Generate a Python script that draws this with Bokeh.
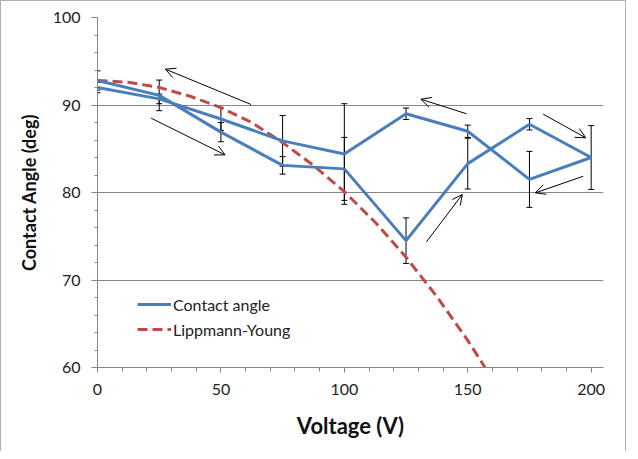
from bokeh.plotting import figure
from bokeh.models import (ColumnDataSource, Whisker, TeeHead, Arrow, OpenHead,
                          FixedTicker, Range1d, Legend, LegendItem)
from bokeh.embed import file_html
from bokeh.resources import INLINE

# Contact angle hysteresis loop (forward then backward)
voltage = [0, 25, 50, 75, 100, 125, 150, 175, 200, 175, 150, 125, 100, 75, 50, 25, 0]
angle = [92.8, 91.1, 86.9, 83.1, 82.7, 74.5, 83.3, 87.8, 84.0, 81.5, 87.0, 89.0, 84.4, 85.9, 88.4, 90.7, 92.0]
angle_err = [1.1, 1.75, 1.1, 1.0, 3.6, 2.6, 2.9, 0.65, 3.65, 3.2, 0.7, 0.65, 5.75, 2.9, 1.3, 0.55, 0.6]

# Lippmann-Young curve values
ly_voltage = [0, 12.5, 25, 37.5, 50, 62.5, 75, 87.5, 100, 112.5, 125, 137.5, 150, 157]
ly_angle = [92.8, 92.6, 92.0, 91.0, 89.7, 88.0, 85.7, 83.1, 80.1, 76.6, 72.6, 68.1, 63.1, 60.0]

# Direction arrows (tail x, tail y, head x, head y)
arrow_x0 = [62.2, 21.7, 149.5, 180.6, 196.8, 133.3]
arrow_y0 = [90.06, 88.5, 89.0, 88.95, 81.86, 74.37]
arrow_x1 = [27.5, 51.7, 131.0, 197.8, 177.4, 147.8]
arrow_y1 = [94.1, 84.3, 90.66, 86.25, 79.96, 79.77]

x_major = [0, 50, 100, 150, 200]
x_minor = list(range(0, 201, 10))
y_major = [60, 70, 80, 90, 100]
y_minor = list(range(60, 101, 2))

FONT = "Lato"
AXIS_GREY = "#868686"

p = figure(width=626, height=451, output_backend="svg", toolbar_location=None,
           x_range=Range1d(0, 205), y_range=Range1d(60, 100),
           min_border_left=96, min_border_right=24, min_border_top=16, min_border_bottom=85)
p.styles = {"border-left": "1px solid #b0b0b0", "border-top": "1px solid #b0b0b0",
            "border-right": "1px solid #b0b0b0"}
p.outline_line_color = None
p.background_fill_color = "white"

p.xgrid.grid_line_color = None
p.ygrid.grid_line_color = AXIS_GREY
p.ygrid.grid_line_width = 1

p.xaxis.ticker = FixedTicker(ticks=x_major, minor_ticks=x_minor)
p.yaxis.ticker = FixedTicker(ticks=y_major, minor_ticks=y_minor)
for ax in (p.xaxis, p.yaxis):
    ax.axis_line_color = AXIS_GREY
    ax.major_tick_line_color = AXIS_GREY
    ax.minor_tick_line_color = AXIS_GREY
    ax.major_tick_in = 0
    ax.minor_tick_in = 0
    ax.major_label_text_font = FONT
    ax.major_label_text_font_size = "16px"
    ax.major_label_text_color = "#222222"
    ax.axis_label_text_font = FONT
    ax.axis_label_text_font_style = "bold"
    ax.axis_label_text_color = "#111111"

p.xaxis.major_tick_out = 5
p.xaxis.minor_tick_out = 4
p.xaxis.major_label_standoff = 11
p.xaxis.axis_label = "Voltage (V)"
p.xaxis.axis_label_text_font_size = "22px"
p.xaxis.axis_label_standoff = 14

p.yaxis.major_tick_out = 6
p.yaxis.minor_tick_out = 3
p.yaxis.major_label_standoff = 11
p.yaxis.axis_label = "Contact Angle (deg)"
p.yaxis.axis_label_text_font_size = "18px"
p.yaxis.axis_label_standoff = 10

src = ColumnDataSource(dict(x=voltage, y=angle,
                            upper=[a + e for a, e in zip(angle, angle_err)],
                            lower=[a - e for a, e in zip(angle, angle_err)]))

ly = p.line(ly_voltage, ly_angle, line_color="#BE4B48", line_width=3, line_dash="10 5")
ca = p.line("x", "y", source=src, line_color="#4A7EBB", line_width=3)

w = Whisker(source=src, base="x", upper="upper", lower="lower", line_color="black", line_width=1,
            upper_head=TeeHead(size=6, line_color="black", line_width=1),
            lower_head=TeeHead(size=6, line_color="black", line_width=1))
p.add_layout(w)

for x0, y0, x1, y1 in zip(arrow_x0, arrow_y0, arrow_x1, arrow_y1):
    p.add_layout(Arrow(x_start=x0, y_start=y0, x_end=x1, y_end=y1, line_color="black", line_width=1,
                       end=OpenHead(size=10, line_color="black", line_width=1)))

legend = Legend(items=[LegendItem(label="Contact angle", renderers=[ca]),
                       LegendItem(label="Lippmann-Young", renderers=[ly])],
                location=(40, 28), border_line_color=None, background_fill_alpha=0,
                label_text_font=FONT, label_text_font_size="16px", label_text_color="#222222",
                glyph_width=34, spacing=5, padding=4, margin=0, label_standoff=2)
p.add_layout(legend, "center")

open("out.html", "w").write(file_html(p, INLINE))
